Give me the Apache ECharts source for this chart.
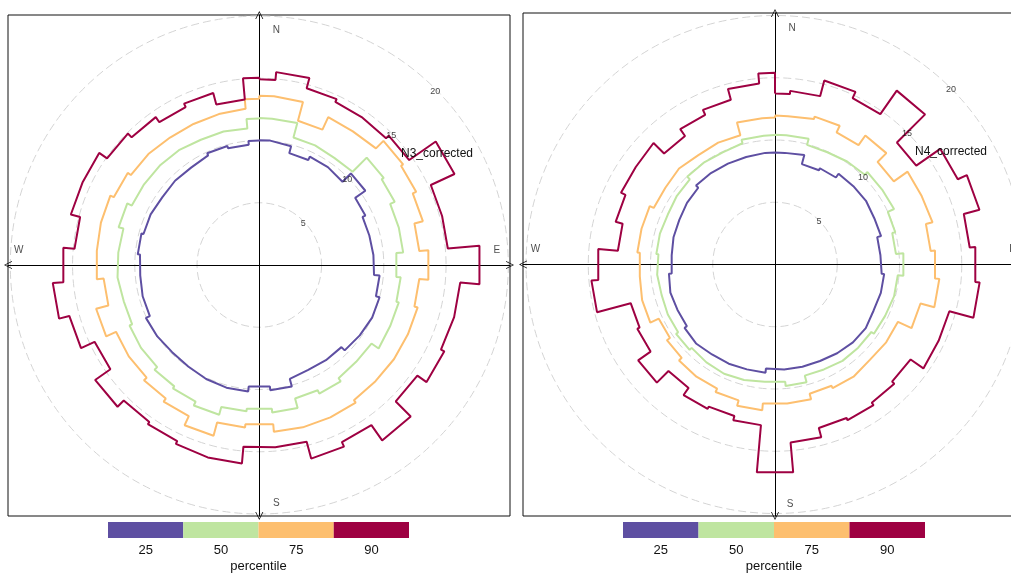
<!DOCTYPE html>
<html><head><meta charset="utf-8">
<script src="https://cdn.jsdelivr.net/npm/echarts@6/dist/echarts.min.js"></script>
<style>html,body{margin:0;padding:0;background:#fff}#c{width:1011px;height:573px}</style>
</head><body><div id="c"></div>
<script>
// ---------- data ----------
const directions = [0,10,20,30,40,50,60,70,80,90,100,110,120,130,140,150,160,170,180,
                    190,200,210,220,230,240,250,260,270,280,290,300,310,320,330,340,350,360];
const percentiles = ['25','50','75','90'];
const colours = ['#5E4FA2','#BFE5A0','#FDBF6F','#9E0142'];
const radiusTicks = [5,10,15,20];
const compassLabels = ['N','E','S','W'];
const compassAngles = [0,90,180,270];
const panelNames = ['N3_corrected','N4_corrected'];

const n3_p25 = [10.03,9.87,9.3,9.6,9.45,10.4,9.4,9.15,9.2,9.25,9.7,10.0,9.85,9.7,9.33,9.3,9.47,10.1,9.8,
                10.2,10.1,9.95,9.9,10.0,10.05,9.7,9.6,9.62,9.8,9.63,9.5,9.57,9.55,9.72,9.9,9.7,10.0];
const n3_p50 = [11.8,11.8,10.6,10.5,10.6,12.2,12.0,11.6,11.6,11.05,11.4,11.6,11.7,11.0,11.1,11.4,11.1,11.9,11.6,
                11.8,12.45,12.1,11.9,11.6,11.5,11.27,11.43,11.37,11.3,11.7,11.3,11.3,11.26,11.1,11.1,11.0,11.77];
const n3_p75 = [13.6,13.55,12.0,13.1,13.25,14.1,13.9,13.6,12.9,13.63,12.9,13.17,13.2,13.2,13.25,13.5,13.5,13.45,12.85,
                13.1,14.2,13.4,13.1,12.8,12.7,13.57,12.55,13.1,13.17,13.2,12.9,12.6,12.5,12.5,12.55,12.6,13.36];
const n3_p90 = [14.92,15.55,14.7,14.45,14.4,14.7,17.3,15.2,15.2,17.75,16.2,16.1,16.4,15.5,17.2,15.7,16.1,14.7,14.65,
                16.0,15.85,15.6,15.4,16.1,14.6,15.8,16.65,15.8,14.9,15.67,15.7,14.93,14.5,14.0,14.3,13.35,15.05];

const n4_p25 = [9.0,9.1,8.35,8.53,8.9,8.92,8.8,8.82,8.5,8.6,8.8,8.74,8.9,8.85,8.7,8.55,8.5,8.47,8.39,
                8.72,8.79,8.82,8.97,8.87,8.64,8.7,8.55,8.33,8.44,8.48,8.63,8.72,8.97,8.94,8.94,9.0,9.0];
const n4_p50 = [10.43,10.45,9.95,10.1,10.2,10.5,10.55,10.0,9.75,10.35,9.9,9.76,9.7,9.45,9.45,9.3,9.24,9.8,9.46,
                9.6,9.68,9.6,9.47,9.7,9.5,9.43,9.5,9.4,9.57,9.5,9.62,9.68,9.98,9.94,10.08,10.38,10.4];
const n4_p75 = [11.96,12.1,12.3,11.7,12.65,11.65,13.0,13.1,12.55,12.9,13.25,12.1,10.9,10.8,11.0,10.95,10.75,11.2,11.2,
                11.75,11.3,11.0,10.9,10.6,10.3,11.05,10.9,10.9,11.1,11.1,10.75,10.9,10.73,10.8,10.75,11.8,11.8];
const n4_p90 = [13.74,14.0,15.3,14.75,17.05,13.85,16.2,17.0,15.7,16.15,16.5,14.5,14.55,13.3,13.55,13.8,13.6,14.36,16.75,
                12.95,12.6,12.8,12.1,13.42,12.2,12.0,14.8,14.25,12.67,13.25,13.65,13.8,12.6,13.27,13.7,14.6,15.4];

const panelSeries = [[n3_p25,n3_p50,n3_p75,n3_p90],[n4_p25,n4_p50,n4_p75,n4_p90]];

// ---------- layout ----------
const FONT = '"Liberation Sans", Arial, sans-serif';
const layout = [
  { cx:259.3, cy:265, box:{left:8, top:15, right:510, bottom:516},
    legend:{left:108, width:301}, title:{left:401, top:148}, ringOffset:[0,2.5],
    compassOffsets:[[17,2],[1,-15],[17,2],[-4,-15]] },
  { cx:775, cy:264.5, box:{left:523, top:13, right:1027, bottom:516},
    legend:{left:623, width:302}, title:{left:915, top:146}, ringOffset:[0,1],
    compassOffsets:[[17,0],[1,-15],[15,3],[-3,-15]] }
];
const R20 = 249; // pixel radius of the 20 ring

function stepPath(vals){
  const pts = [];
  directions.forEach((d,i)=>{
    const a0 = Math.max(0, d-5), a1 = Math.min(360, d+5);
    pts.push([vals[i], a0], [vals[i], a1]);
  });
  pts.push([vals[0], 360]);
  return pts;
}

const chevron = 'path://M0,10 L5,0 L10,10 L9,10 L5,1.8 L1,10 Z';
const clear = 'rgba(0,0,0,0)';

const option = {
  animation:false,
  textStyle:{fontFamily:FONT},
  title:[], polar:[], angleAxis:[], radiusAxis:[], grid:[], xAxis:[], yAxis:[], series:[]
};

layout.forEach((L,p)=>{
  const B = L.box;
  // box + cross axes (right edge of second box lies beyond the canvas)
  option.grid.push({left:B.left, top:B.top, width:B.right-B.left, height:B.bottom-B.top,
    outerBoundsMode:'none', containLabel:false,
    show:true, borderColor:'#111', borderWidth:1, backgroundColor:'transparent'});
  const gi = option.grid.length-1;
  option.xAxis.push({gridIndex:gi, type:'value', min:-(L.cx-B.left), max:(B.right-L.cx),
    axisLine:{show:true, onZero:true, lineStyle:{color:'#000',width:1}, symbol:[chevron,chevron], symbolSize:[8,8]},
    axisTick:{show:false}, axisLabel:{show:false}, splitLine:{show:false}});
  option.yAxis.push({gridIndex:gi, type:'value', min:-(B.bottom-L.cy), max:(L.cy-B.top),
    axisLine:{show:true, onZero:true, lineStyle:{color:'#000',width:1}, symbol:[chevron,chevron], symbolSize:[8,8]},
    axisTick:{show:false}, axisLabel:{show:false}, splitLine:{show:false}});

  // polar system
  option.polar.push({center:[L.cx, L.cy], radius:R20});
  option.angleAxis.push({polarIndex:p, type:'value', min:0, max:360, startAngle:90, clockwise:true,
    axisLine:{show:false}, axisTick:{show:false}, axisLabel:{show:false}, splitLine:{show:false}});
  option.radiusAxis.push({polarIndex:p, type:'value', min:0, max:20, interval:5,
    axisLine:{show:false}, axisTick:{show:false}, axisLabel:{show:false},
    splitLine:{show:true, lineStyle:{color:'#d4d4d4', width:1, type:[8,4]}}});

  // percentile step lines
  panelSeries[p].forEach((vals,k)=>{
    option.series.push({type:'line', coordinateSystem:'polar', polarIndex:p, name:percentiles[k],
      data:stepPath(vals), symbol:'none', smooth:false, silent:true,
      lineStyle:{color:colours[k], width:2}, z:3});
  });

  // ring labels at 45 degrees
  option.series.push({type:'scatter', coordinateSystem:'polar', polarIndex:p, silent:true,
    symbolSize:2, itemStyle:{color:clear},
    data:radiusTicks.map(t=>({value:[t,45], name:String(t)})),
    label:{show:true, position:'inside', formatter:'{b}', fontSize:9, color:'#111', fontFamily:FONT,
      offset:L.ringOffset}, z:4});

  // compass labels
  option.series.push({type:'scatter', coordinateSystem:'polar', polarIndex:p, silent:true,
    symbolSize:2, itemStyle:{color:clear},
    data:compassLabels.map((c,i)=>({value:[19, compassAngles[i]], name:c, label:{offset:L.compassOffsets[i]}})),
    label:{show:true, position:'inside', formatter:'{b}', fontSize:10, color:'#222', fontFamily:FONT}, z:4});

  // panel name
  option.title.push({text:panelNames[p], left:L.title.left, top:L.title.top, padding:0,
    textStyle:{fontSize:12, fontWeight:'normal', color:'#111', fontFamily:FONT}});

  // colour key
  option.grid.push({left:L.legend.left, top:522, width:L.legend.width, height:16,
    outerBoundsMode:'none', containLabel:false});
  const lg = option.grid.length-1;
  option.xAxis.push({gridIndex:lg, type:'category', data:percentiles,
    axisLine:{show:false}, axisTick:{show:false},
    axisLabel:{margin:6, fontSize:13, color:'#111', fontFamily:FONT},
    name:'percentile', nameLocation:'middle', nameGap:22,
    nameTextStyle:{fontSize:13, color:'#111', fontFamily:FONT}});
  option.yAxis.push({gridIndex:lg, type:'value', min:0, max:1, show:false});
  option.series.push({type:'bar', xAxisIndex:option.xAxis.length-1, yAxisIndex:option.yAxis.length-1,
    barCategoryGap:'0%', silent:true,
    data:percentiles.map((q,k)=>({value:1, itemStyle:{color:colours[k]}}))});
});

const chart = echarts.init(document.getElementById('c'), null, {renderer:'canvas'});
chart.setOption(option);
</script></body></html>
